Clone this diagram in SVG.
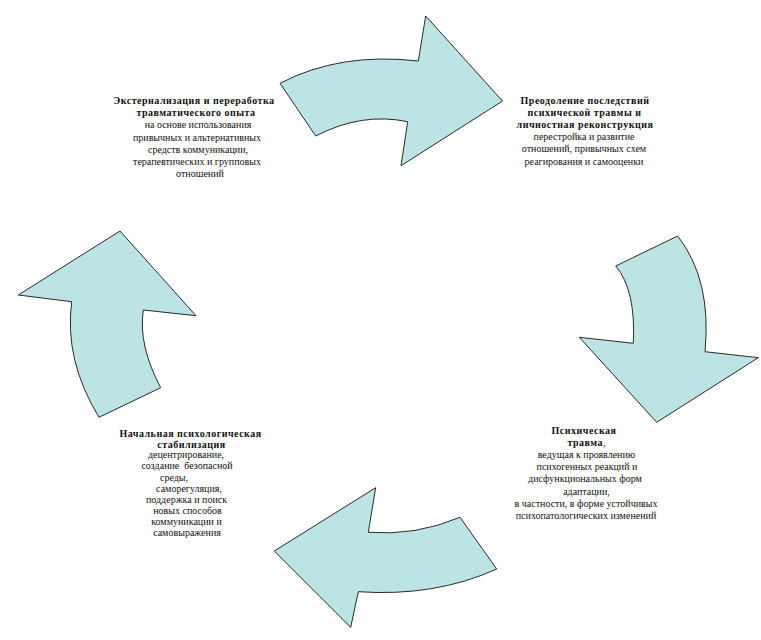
<svg xmlns="http://www.w3.org/2000/svg" width="761" height="640" viewBox="0 0 761 640">
<style>
.arrow{fill:#bce4e4;stroke:#2a2a2a;stroke-width:1;stroke-linejoin:miter}
text{font-family:"Liberation Serif","Times New Roman",serif;font-size:10px;fill:#111;text-anchor:middle}
.b{font-weight:bold;letter-spacing:0.5px}
</style>
<rect width="761" height="640" fill="#fff"/>
<g id="connectors">
<path id="arrow-top" class="arrow" d="M280,83.3 Q340,52 418.3,61 L425.7,16 L502.5,101 L401,165.7 L407.7,121.7 Q362,112 315.7,136 Z"/>
<path id="arrow-right" class="arrow" d="M677.7,236 Q712,280 705,351.7 L758.3,357.7 L656.7,422.3 L579.3,337.3 L633.3,343.3 Q636,290 615.7,266 Z"/>
<path id="arrow-bottom" class="arrow" d="M460,517.3 Q416,536 368.3,532.3 L375.7,487.7 L274.3,551 L350.7,627.3 L358.3,591.7 Q435,597 496.7,569 Z"/>
<path id="arrow-left" class="arrow" d="M160.7,387.7 Q138,345 143.3,310 L196,315.7 L120,231 L18.3,295 L71.7,301.7 Q64,360 99,417.3 Z"/>
</g>
<g id="node-externalization">
<text x="194" y="104" class="b">Экстернализация и переработка</text>
<text x="196" y="116.2" class="b">травматического опыта</text>
<text x="198" y="128.4">на основе использования</text>
<text x="197" y="140.6">привычных и альтернативных</text>
<text x="198" y="152.8">средств коммуникации,</text>
<text x="197" y="165">терапевтических и групповых</text>
<text x="200" y="177.2">отношений</text>
</g>
<g id="node-overcoming">
<text x="585" y="103.5" class="b">Преодоление последствий</text>
<text x="584.5" y="115.7" class="b">психической травмы и</text>
<text x="585" y="127.9" class="b">личностная реконструкция</text>
<text x="584" y="140.1">перестройка и развитие</text>
<text x="584" y="152.3">отношений, привычных схем</text>
<text x="584" y="164.5">реагирования и самооценки</text>
</g>
<g id="node-trauma">
<text x="584" y="433.5" class="b">Психическая</text>
<text x="586.5" y="445.7"><tspan class="b">травма</tspan>,</text>
<text x="586.5" y="457.9">ведущая к проявлению</text>
<text x="587" y="470.1">психогенных реакций и</text>
<text x="585" y="482.3">дисфункциональных форм</text>
<text x="586.5" y="494.5">адаптации,</text>
<text x="586" y="506.7">в частности, в форме устойчивых</text>
<text x="586" y="518.9">психопатологических изменений</text>
</g>
<g id="node-stabilization">
<text x="190.5" y="437" class="b">Начальная психологическая</text>
<text x="191.5" y="447.5" class="b">стабилизация</text>
<text x="186" y="458.3">децентрирование,</text>
<text x="187" y="469.3" xml:space="preserve">создание  безопасной</text>
<text x="174" y="480.5">среды,</text>
<text x="189" y="492">саморегуляция,</text>
<text x="186.5" y="503">поддержка и поиск</text>
<text x="187.5" y="514">новых способов</text>
<text x="186.5" y="525">коммуникации и</text>
<text x="187" y="536">самовыражения</text>
</g>
</svg>
